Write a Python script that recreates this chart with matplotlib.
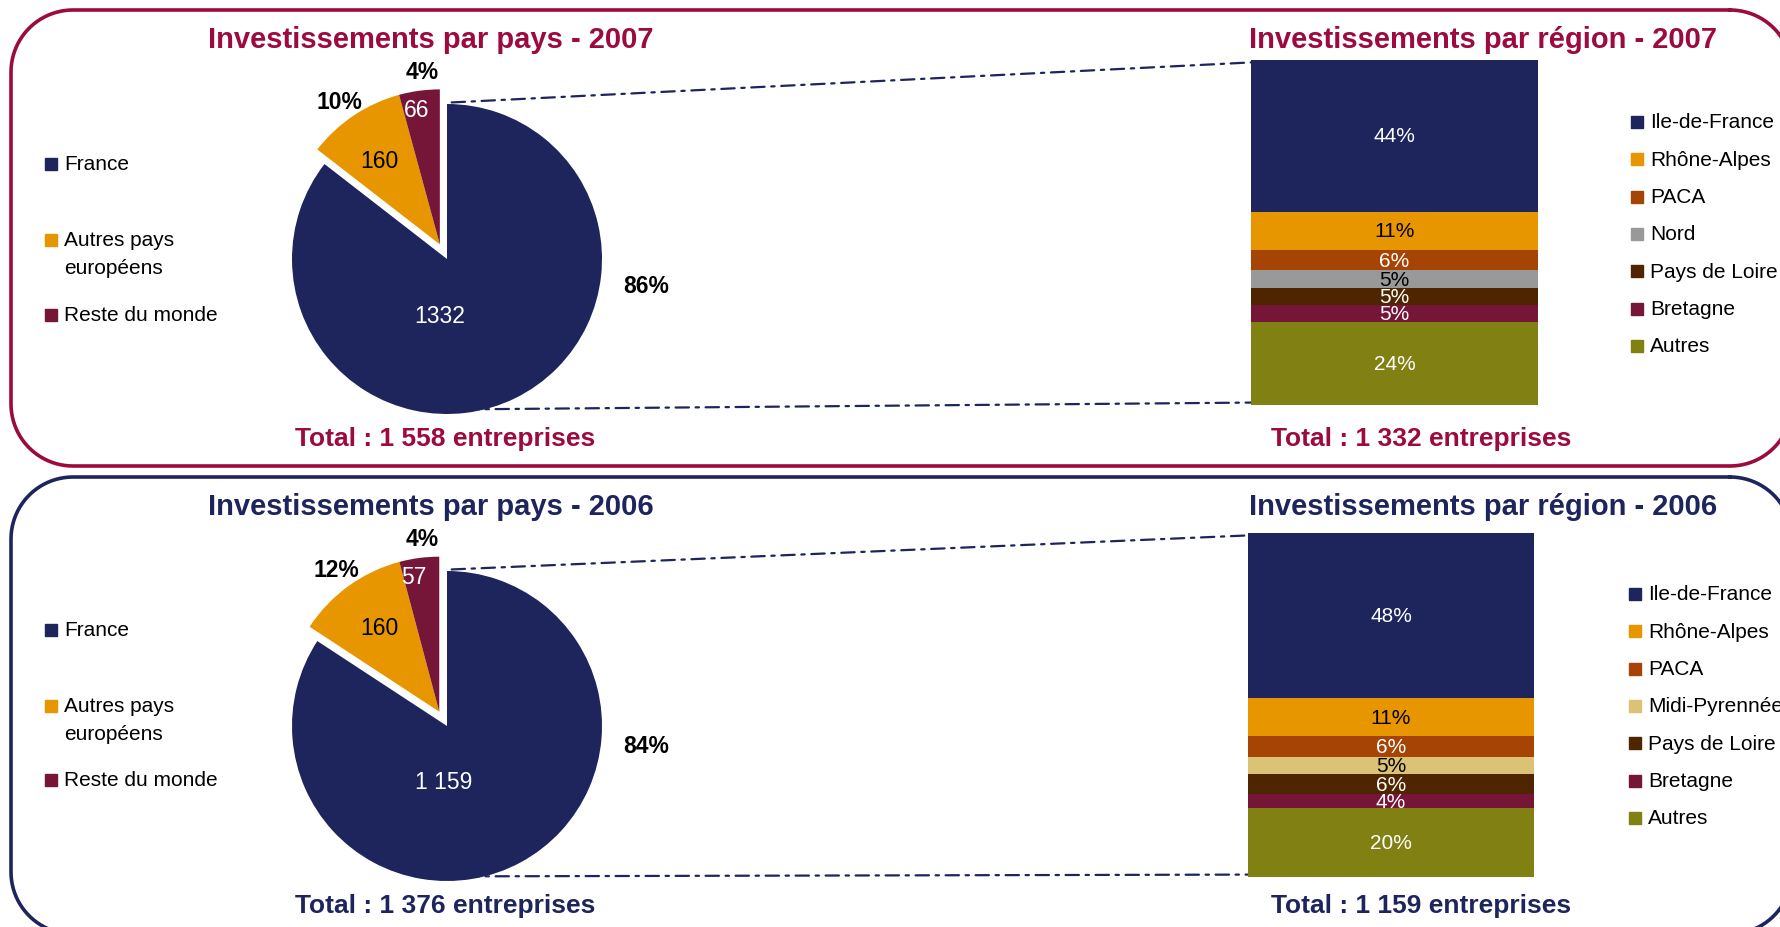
import numpy as np
import matplotlib.pyplot as plt
from matplotlib.patches import Rectangle, ConnectionPatch

plt.rcParams['font.family'] = ['Liberation Sans', 'DejaVu Sans']

W, H = 1780, 928

# --- data -------------------------------------------------------------
pays = ["France", "Autres pays\neuropéens", "Reste du monde"]
pays_2007 = [1332, 160, 66]
pays_2006 = [1159, 160, 57]
pays_lbl_2007 = ["1332", "160", "66"]
pays_lbl_2006 = ["1 159", "160", "57"]
pays_pct_2007 = ["86%", "10%", "4%"]
pays_pct_2006 = ["84%", "12%", "4%"]

regions_2007 = ["Ile-de-France", "Rhône-Alpes", "PACA", "Nord",
                "Pays de Loire", "Bretagne", "Autres"]
part_2007 = [44, 11, 6, 5, 5, 5, 24]
regions_2006 = ["Ile-de-France", "Rhône-Alpes", "PACA", "Midi-Pyrennées",
                "Pays de Loire", "Bretagne", "Autres"]
part_2006 = [48, 11, 6, 5, 6, 4, 20]

total_pays = {2007: "1 558", 2006: "1 376"}
total_region = {2007: "1 332", 2006: "1 159"}

# --- styles -----------------------------------------------------------
NAVY = '#1D255C'
ORANGE = '#E89600'
MAROON = '#751538'
CRIMSON = '#9C0A3E'
pays_colors = [NAVY, ORANGE, MAROON]
region_colors = {"Ile-de-France": NAVY, "Rhône-Alpes": ORANGE, "PACA": '#A64405',
                 "Nord": '#999999', "Midi-Pyrennées": '#DCC274',
                 "Pays de Loire": '#4F2500', "Bretagne": MAROON, "Autres": '#808013'}
dark_text = {"Rhône-Alpes", "Nord", "Midi-Pyrennées"}

R = 155  # pie radius in pixels


def px_box(x0, y0, x1, y1):
    return [x0 / W, 1 - y1 / H, (x1 - x0) / W, (y1 - y0) / H]


def rounded_frame(x0, y0, x1, y1, r, n=24):
    # outline of a rounded rectangle, y going down (pixel coords)
    corners = [(x1 - r, y0 + r, -90, 0), (x1 - r, y1 - r, 0, 90),
               (x0 + r, y1 - r, 90, 180), (x0 + r, y0 + r, 180, 270)]
    xs, ys = [], []
    for cx, cy, a0, a1 in corners:
        a = np.radians(np.linspace(a0, a1, n))
        xs.extend(cx + r * np.cos(a))
        ys.extend(cy + r * np.sin(a))
    xs.append(xs[0])
    ys.append(ys[0])
    return xs, ys


fig = plt.figure(figsize=(W / 100, H / 100), dpi=100)
bg = fig.add_axes([0, 0, 1, 1])
bg.set_xlim(0, W)
bg.set_ylim(H, 0)
bg.axis('off')
bg.set_zorder(0)


def draw_pie(cy, values, lbls, pcts, lbl_off, pct_off):
    cx = 447
    ax = fig.add_axes(px_box(cx - 1.3 * R, cy - 1.3 * R, cx + 1.3 * R, cy + 1.3 * R))
    ax.set_zorder(2)
    frac = np.array(values) / sum(values)
    # the two small slices are pulled out together along their middle direction
    theta = 2 * np.pi * (1 - frac[1:].sum() / 2)
    dx, dy = 0.105 * np.sin(theta), 0.105 * np.cos(theta)
    ax.pie(values, colors=[pays_colors[0], 'none', 'none'], startangle=90,
           counterclock=False, radius=1)
    ax.pie(values, colors=['none', pays_colors[1], pays_colors[2]], startangle=90,
           counterclock=False, radius=1, center=(dx, dy))
    ax.set_xlim(-1.3, 1.3)
    ax.set_ylim(-1.3, 1.3)
    ax.set_aspect('auto')
    ax.axis('off')
    txt_colors = ['white', 'black', 'white']
    for t, (ox, oy), c in zip(lbls, lbl_off, txt_colors):
        ax.text(ox / R, -oy / R, t, ha='center', va='center', fontsize=16.5, color=c)
    for t, (ox, oy) in zip(pcts, pct_off):
        ax.text(ox / R, -oy / R, t, ha='center', va='center', fontsize=16.5,
                fontweight='bold', color='black')
    return ax


def draw_bar(box, regions, part, leg_x, leg_y0):
    ax = fig.add_axes(px_box(*box))
    ax.set_zorder(2)
    bottom = 0
    for name, v in reversed(list(zip(regions, part))):
        ax.bar(0, v, width=1, bottom=bottom, color=region_colors[name], linewidth=0)
        ax.text(0, bottom + v / 2, f"{v}%", ha='center', va='center', fontsize=15,
                color='black' if name in dark_text else 'white')
        bottom += v
    ax.set_xlim(-0.5, 0.5)
    ax.set_ylim(0, sum(part))
    ax.axis('off')
    for i, name in enumerate(regions):
        y = leg_y0 + i * 37.3
        bg.add_patch(Rectangle((leg_x, y - 6), 12, 12, color=region_colors[name]))
        bg.text(leg_x + 19, y, name, va='center', ha='left', fontsize=15)
    return ax


def connect(pie_ax, bar_ax):
    for a, b in [((0.03, 1.01), (-0.5, 99.3)), ((0.12, -0.97), (-0.5, 0.7))]:
        con = ConnectionPatch(xyA=a, coordsA=pie_ax.transData, xyB=b,
                              coordsB=bar_ax.transData, color=NAVY, lw=1.6,
                              linestyle=(0, (6, 3, 1.5, 3)))
        con.set_zorder(1)
        fig.add_artist(con)


def left_legend(y_list):
    for name, c, y in zip(pays, pays_colors, y_list):
        bg.add_patch(Rectangle((45, y - 6), 12, 12, color=c))
        for k, line in enumerate(name.split('\n')):
            bg.text(64, y + 28 * k, line, va='center', ha='left', fontsize=15)


panels = [
    dict(year=2007, top=11, bottom=467, color=CRIMSON, values=pays_2007,
         lbls=pays_lbl_2007, pcts=pays_pct_2007, regions=regions_2007, part=part_2007,
         lbl_off=[(-7, 56), (-68, -99), (-30, -150)],
         pct_off=[(199, 26), (-108, -158), (-25, -188)]),
    dict(year=2006, top=478, bottom=935, color=NAVY, values=pays_2006,
         lbls=pays_lbl_2006, pcts=pays_pct_2006, regions=regions_2006, part=part_2006,
         lbl_off=[(-3, 56), (-68, -98), (-33, -149)],
         pct_off=[(199, 20), (-111, -156), (-25, -187)]),
]

for p in panels:
    top = p['top']
    fx, fy = rounded_frame(11, top, 1792, p['bottom'], 62)
    bg.plot(fx, fy, color=p['color'], lw=2.6, solid_joinstyle='round', clip_on=False)
    bg.text(431, top + 29, f"Investissements par pays - {p['year']}", ha='center',
            va='center', fontsize=21, fontweight='bold', color=p['color'])
    bg.text(1483, top + 29, f"Investissements par région - {p['year']}", ha='center',
            va='center', fontsize=21, fontweight='bold', color=p['color'])
    bg.text(445, top + 428, f"Total : {total_pays[p['year']]} entreprises", ha='center',
            va='center', fontsize=19, fontweight='bold', color=p['color'])
    bg.text(1421, top + 428, f"Total : {total_region[p['year']]} entreprises", ha='center',
            va='center', fontsize=19, fontweight='bold', color=p['color'])

    cy = top + 249
    pie_ax = draw_pie(cy, p['values'], p['lbls'], p['pcts'], p['lbl_off'], p['pct_off'])
    if p['year'] == 2007:
        bar_ax = draw_bar((1251, 61, 1538, 406), p['regions'], p['part'], 1631, 123)
        left_legend([165, 241, 316])
    else:
        bar_ax = draw_bar((1248, 534, 1534, 878), p['regions'], p['part'], 1629, 595)
        left_legend([631, 707, 781])
    connect(pie_ax, bar_ax)

fig.savefig('out.png', dpi=100)
